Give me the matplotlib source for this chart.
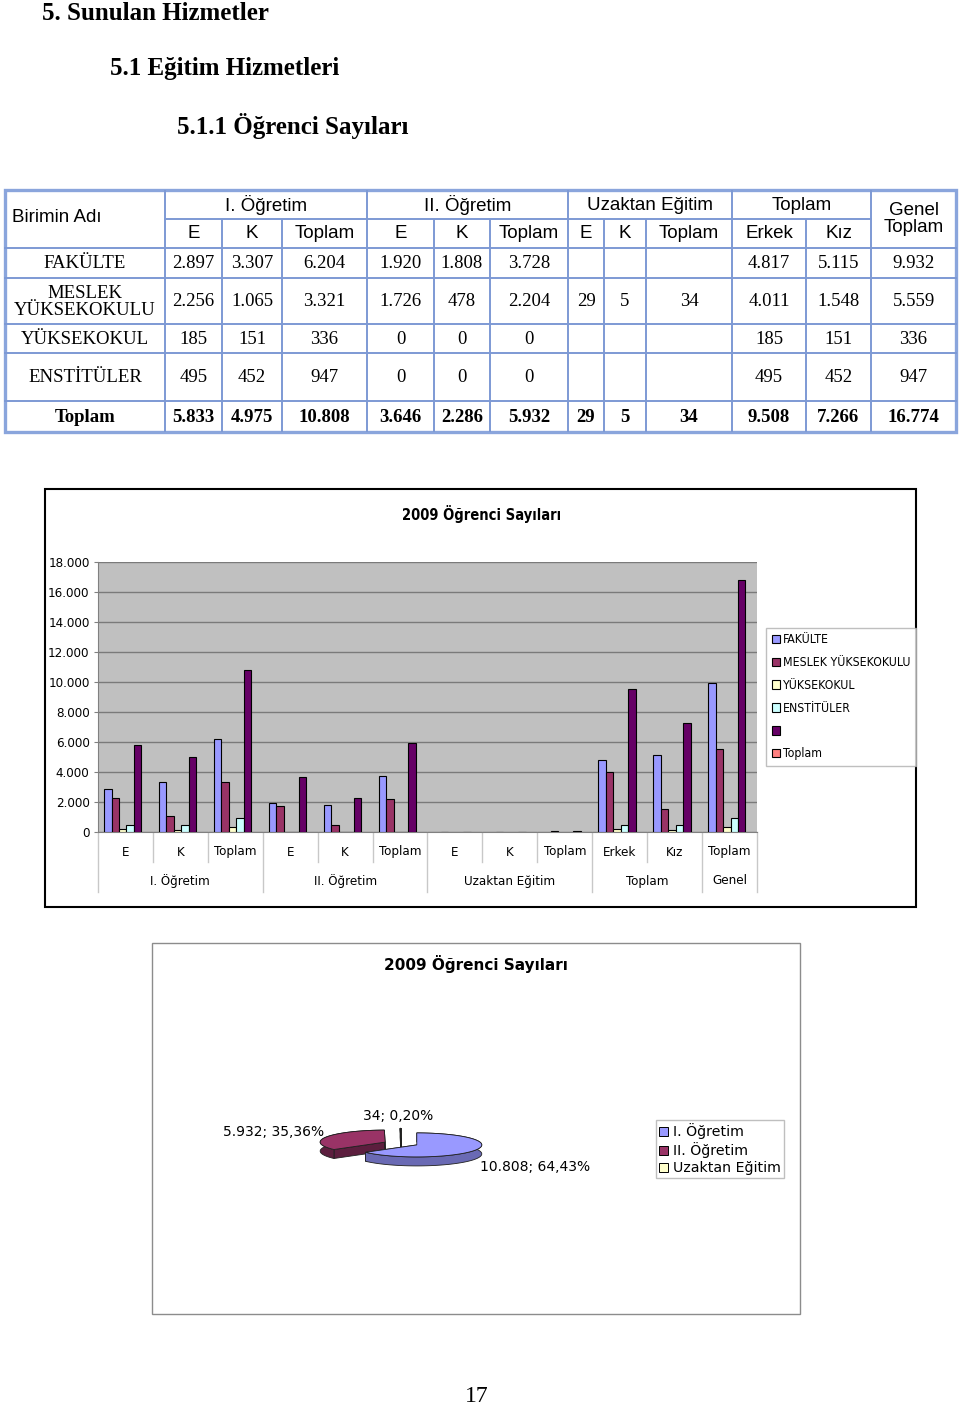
import numpy as np
import matplotlib
matplotlib.use('Agg')
import matplotlib.pyplot as plt
from matplotlib import font_manager as fm
from matplotlib.patches import Rectangle, Polygon, Patch

W, H = 960, 1409

# ---- data ----
row_names = ['FAKÜLTE', 'MESLEK\nYÜKSEKOKULU', 'YÜKSEKOKUL', 'ENSTİTÜLER', 'Toplam']
table_groups = ['I. Öğretim', 'II. Öğretim', 'Uzaktan Eğitim', 'Toplam']
sub_cols = ['E', 'K', 'Toplam', 'E', 'K', 'Toplam', 'E', 'K', 'Toplam', 'Erkek', 'Kız', 'Toplam']
chart_groups = ['I. Öğretim', 'II. Öğretim', 'Uzaktan Eğitim', 'Toplam', 'Genel']
group_sizes = [3, 3, 3, 2, 1]

fakulte = [2897, 3307, 6204, 1920, 1808, 3728, None, None, None, 4817, 5115, 9932]
meslek = [2256, 1065, 3321, 1726, 478, 2204, 29, 5, 34, 4011, 1548, 5559]
yuksekokul = [185, 151, 336, 0, 0, 0, None, None, None, 185, 151, 336]
enstitu = [495, 452, 947, 0, 0, 0, None, None, None, 495, 452, 947]
toplam = [5833, 4975, 10808, 3646, 2286, 5932, 29, 5, 34, 9508, 7266, 16774]
rows = [fakulte, meslek, yuksekokul, enstitu, toplam]

legend_labels = ['FAKÜLTE', 'MESLEK YÜKSEKOKULU', 'YÜKSEKOKUL', 'ENSTİTÜLER', '', 'Toplam']
bar_colors = ['#9999FF', '#993366', '#FFFFCC', '#CCFFFF', '#660066', '#FF8080']

pie_labels = ['I. Öğretim', 'II. Öğretim', 'Uzaktan Eğitim']
pie_values = [10808, 5932, 34]
pie_colors = ['#9999FF', '#993366', '#FFFFCC']
pie_sides = ['#6a6ab4', '#5c1e3e', '#b5b58f']


def tr(v):
    return f"{v:,}".replace(',', '.')


def narrow_font(size, bold=False):
    # look for an installed narrow / condensed sans face, else shrink Liberation Sans
    for f in fm.fontManager.ttflist:
        cond = ('Narrow' in f.name or 'Condensed' in f.name or 'condensed' in str(f.stretch))
        w = f.weight if isinstance(f.weight, int) else (700 if 'bold' in str(f.weight) else 400)
        ok_w = (600 <= w < 800) if bold else (400 <= w < 600)
        if cond and ok_w and f.style == 'normal' and 'Mono' not in f.name \
                and 'Serif' not in f.name:
            return fm.FontProperties(fname=f.fname, size=size)
    return fm.FontProperties(family='Liberation Sans', size=size * 0.84,
                             weight='bold' if bold else 'normal')


SERIF = 'Liberation Serif'
SANS = 'Liberation Sans'
nf = narrow_font(9.5)
nf_leg = narrow_font(8.8)
nf_bold = narrow_font(10.5, bold=True)

fig = plt.figure(figsize=(W / 100, H / 100), dpi=100)
fig.patch.set_facecolor('white')

# page layer in pixel coordinates
page = fig.add_axes([0, 0, 1, 1])
page.set_xlim(0, W)
page.set_ylim(H, 0)
page.axis('off')

# headings
page.text(42, 13, '5. Sunulan Hizmetler', ha='left', va='center', family=SERIF, weight='bold', size=18)
page.text(110, 69, '5.1 Eğitim Hizmetleri', ha='left', va='center', family=SERIF, weight='bold', size=18)
page.text(177, 126, '5.1.1 Öğrenci Sayıları', ha='left', va='center', family=SERIF, weight='bold', size=18)

# ---- table ----
col_x = [5, 165, 222, 282, 367, 434, 490, 568, 604, 646, 732, 806, 871, 956]
row_y = [190, 219, 248, 278, 324, 353, 401, 432]
line_c = '#7d99d4'

for ci, x in enumerate(col_x[1:-1], start=1):
    top = row_y[0] if ci in (1, 4, 7, 10, 12) else row_y[1]
    page.plot([x, x], [top, row_y[-1]], color=line_c, lw=1.4, solid_capstyle='butt')
page.plot([col_x[1], col_x[12]], [row_y[1], row_y[1]], color=line_c, lw=1.4)
for y in row_y[2:-1]:
    page.plot([col_x[0], col_x[-1]], [y, y], color=line_c, lw=1.4)
page.add_patch(Rectangle((col_x[0], row_y[0]), col_x[-1] - col_x[0], row_y[-1] - row_y[0],
                         fill=False, edgecolor='#8aa5dc', lw=2.4))

hs = 13.5
page.text(12, 218, 'Birimin Adı', ha='left', va='center', family=SANS, size=hs)
spans = [(1, 4), (4, 7), (7, 10), (10, 12)]
for name, (a, b) in zip(table_groups, spans):
    page.text((col_x[a] + col_x[b]) / 2, 205, name, ha='center', va='center', family=SANS, size=hs)
page.text((col_x[12] + col_x[13]) / 2, 219, 'Genel\nToplam', ha='center', va='center',
          family=SANS, size=hs, linespacing=0.95)
for j, name in enumerate(sub_cols[:-1]):
    page.text((col_x[j + 1] + col_x[j + 2]) / 2, 234, name, ha='center', va='center', family=SANS, size=hs)

for i, (name, vals) in enumerate(zip(row_names, rows)):
    yc = (row_y[i + 2] + row_y[i + 3]) / 2
    wt = 'bold' if i == len(rows) - 1 else 'normal'
    page.text(85, yc + 1, name, ha='center', va='center', family=SERIF, size=13.5,
              weight=wt, linespacing=0.95)
    for j, v in enumerate(vals):
        if v is None:
            continue
        page.text((col_x[j + 1] + col_x[j + 2]) / 2, yc + 1, tr(v), ha='center', va='center',
                  family=SERIF, size=13.5, weight=wt)

# ---- bar chart ----
page.add_patch(Rectangle((45, 489), 871, 418, fill=False, edgecolor='black', lw=1.5))
page.text(482, 514, '2009 Öğrenci Sayıları', ha='center', va='center', fontproperties=nf_bold)

ax = fig.add_axes([98 / W, 1 - 832 / H, (757 - 98) / W, (832 - 562) / H])
ax.set_facecolor('#C0C0C0')
n = len(sub_cols)
x = np.arange(n)
bw = 0.136
shift = -0.05
handles = []
for k, vals in enumerate(rows):
    h = [np.nan if v is None else v for v in vals]
    b = ax.bar(x + shift + (k - 2) * bw, h, width=bw, color=bar_colors[k],
               edgecolor='black', lw=0.8, zorder=3)
    handles.append(b)
handles.append(Patch(facecolor=bar_colors[5], edgecolor='black', lw=0.8))

ax.set_xlim(-0.5, n - 0.5)
ax.set_ylim(0, 18000)
ax.set_yticks(range(0, 18001, 2000))
ax.set_yticklabels([tr(v) for v in range(0, 18001, 2000)], fontproperties=nf)
ax.set_xticks([])
ax.tick_params(axis='y', direction='out', length=3, color='#808080', pad=3)
ax.yaxis.grid(True, color='#7a7a7a', lw=1)
ax.set_axisbelow(True)
for s in ['top', 'right']:
    ax.spines[s].set_visible(False)
for s in ['left', 'bottom']:
    ax.spines[s].set_color('#808080')

xt = ax.get_xaxis_transform()
for i, lab in enumerate(sub_cols):
    ax.text(i, -20 / 270, lab, transform=xt, ha='center', va='center', fontproperties=nf)
bounds = np.concatenate([[0], np.cumsum(group_sizes)])
for i in range(n + 1):
    low = -60 / 270 if i in bounds else -30 / 270
    ax.plot([i - 0.5, i - 0.5], [0, low], transform=xt, color='#c8c8c8', lw=1, clip_on=False)
for g, a, sz in zip(chart_groups, bounds[:-1], group_sizes):
    ax.text(a + (sz - 1) / 2, -49 / 270, g, transform=xt, ha='center', va='center',
            fontproperties=nf)

fig.legend(handles, legend_labels, loc='upper left', bbox_to_anchor=(766 / W, 1 - 628 / H),
           bbox_transform=fig.transFigure, frameon=True, fancybox=False, edgecolor='#b0b0b0',
           prop=nf_leg, handlelength=0.7, handleheight=0.7,
           labelspacing=0.8, borderpad=0.45, handletextpad=0.25, borderaxespad=0)

# ---- pie chart ----
page.add_patch(Rectangle((152, 943), 648, 371, fill=False, edgecolor='#8c8c8c', lw=1))
page.text(476, 964, '2009 Öğrenci Sayıları', ha='center', va='center', family='DejaVu Sans',
          weight='bold', size=11)

cx, cy, rx, ry, depth, expl = 401, 1143.5, 65, 12, 9, 0.27
vals = np.array(pie_values, dtype=float)
fr = vals / vals.sum()
starts = 90 - 360 * np.concatenate([[0], np.cumsum(fr)[:-1]])
ends = starts - 360 * fr
ec = '#202020'
for i in [2, 1, 0]:
    m = np.deg2rad((starts[i] + ends[i]) / 2)
    ox = cx + expl * rx * np.cos(m)
    oy = cy - expl * ry * np.sin(m)
    t = np.deg2rad(np.linspace(starts[i], ends[i], 120))
    arc = np.column_stack([ox + rx * np.cos(t), oy - ry * np.sin(t)])
    low = arc + [0, depth]
    for p in (arc[0], arc[-1]):
        quad = [(ox, oy), tuple(p), (p[0], p[1] + depth), (ox, oy + depth)]
        page.add_patch(Polygon(quad, closed=True, facecolor=pie_sides[i], edgecolor=ec, lw=0.6))
    page.add_patch(Polygon(np.vstack([arc, low[::-1]]), closed=True, facecolor=pie_sides[i],
                           edgecolor=ec, lw=0.6))
    page.add_patch(Polygon(np.vstack([[ox, oy], arc]), closed=True, facecolor=pie_colors[i],
                           edgecolor=ec, lw=0.6))

pct = [f"{100 * f:.2f}".replace('.', ',') + '%' for f in fr]
pie_text = [f"{tr(v)}; {p}" for v, p in zip(pie_values, pct)]
label_pos = [(480, 1167, 'left'), (324, 1132, 'right'), (398, 1116, 'center')]
for s, (lx, ly, ha) in zip(pie_text, label_pos):
    page.text(lx, ly, s, ha=ha, va='center', family='DejaVu Sans', size=10)

pie_handles = [Patch(facecolor=c, edgecolor='black', lw=0.7) for c in pie_colors]
fig.legend(pie_handles, pie_labels, loc='upper left', bbox_to_anchor=(656 / W, 1 - 1120 / H),
           bbox_transform=fig.transFigure, frameon=True, fancybox=False, edgecolor='#b0b0b0',
           prop={'family': 'DejaVu Sans', 'size': 10.2}, handlelength=0.6, handleheight=0.6,
           labelspacing=0.22, borderpad=0.22, handletextpad=0.35, borderaxespad=0)

page.text(477, 1397, '17', ha='center', va='center', family=SERIF, size=17)

fig.savefig('out.png', dpi=100)
